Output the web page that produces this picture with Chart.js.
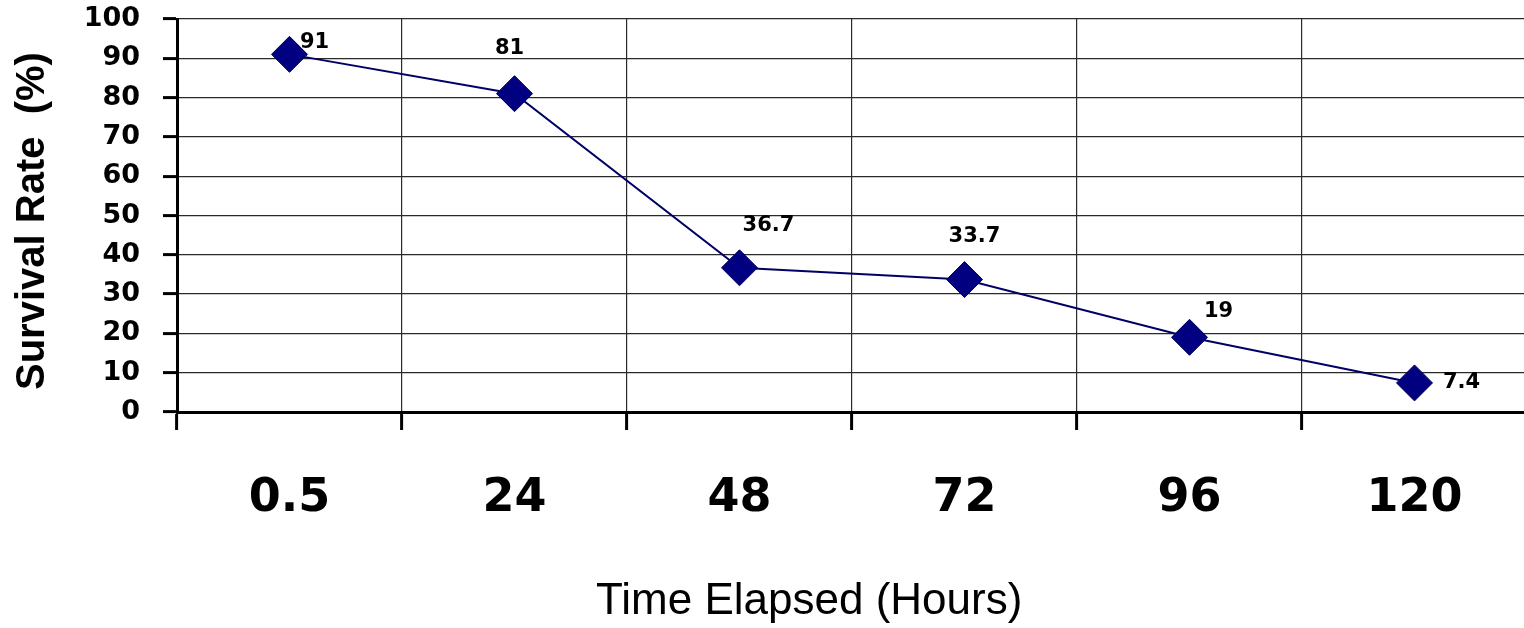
<!DOCTYPE html>
<html>
<head>
<meta charset="utf-8">
<script src="https://cdn.jsdelivr.net/npm/chart.js@4/dist/chart.umd.min.js"></script>
<style>
  html, body { margin: 0; padding: 0; background: #fff; overflow: hidden; }
  canvas { display: block; }
</style>
</head>
<body>
<canvas id="c" width="1546" height="628" style="width:1546px;height:628px"></canvas>
<script>
// ---- data ----
const categories = ['0.5', '24', '48', '72', '96', '120'];
const survival = [91, 81, 36.7, 33.7, 19, 7.4];
const valueLabels = ['91', '81', '36.7', '33.7', '19', '7.4'];
const yTicks = [0, 10, 20, 30, 40, 50, 60, 70, 80, 90, 100];

// ---- label placement (style only) ----
const labelOffsets = [[25, -12], [-5, -45], [29, -42], [10, -43], [29, -26], [47, 0]];

const labelPlugin = {
  id: 'pointLabels',
  afterDatasetsDraw(chart) {
    const meta = chart.getDatasetMeta(0);
    const ctx = chart.ctx;
    ctx.save();
    ctx.font = 'bold 21px "DejaVu Sans"';
    ctx.fillStyle = '#000';
    ctx.textAlign = 'center';
    ctx.textBaseline = 'middle';
    meta.data.forEach((pt, i) => {
      const o = labelOffsets[i];
      ctx.fillText(valueLabels[i], pt.x + o[0], pt.y + o[1]);
    });
    ctx.restore();
  }
};

function noPad(s) {
  s.paddingTop = 0; s.paddingBottom = 0; s.paddingLeft = 0; s.paddingRight = 0;
}

new Chart(document.getElementById('c'), {
  type: 'line',
  data: {
    labels: categories,
    datasets: [{
      data: survival,
      borderColor: '#000066',
      borderWidth: 2,
      backgroundColor: '#000080',
      pointStyle: 'rectRot',
      pointRadius: 18,
      pointBorderColor: '#00005a',
      pointBorderWidth: 1,
      pointBackgroundColor: '#000080',
      tension: 0,
      fill: false
    }]
  },
  options: {
    responsive: false,
    animation: false,
    devicePixelRatio: 1,
    layout: { padding: { top: 18, right: 0, bottom: 0, left: 0 } },
    plugins: { legend: { display: false }, tooltip: { enabled: false } },
    scales: {
      x: {
        type: 'category',
        offset: true,
        afterFit: (s) => { s.height = 216; noPad(s); },
        grid: {
          offset: true,
          color: '#2a2a2a',
          lineWidth: 1.2,
          drawTicks: true,
          tickLength: 18,
          tickWidth: 3,
          tickColor: '#000'
        },
        border: { display: true, color: '#000', width: 3 },
        ticks: {
          padding: 41,
          color: '#000',
          font: { family: '"DejaVu Sans"', size: 46, weight: 'bold' },
          maxRotation: 0
        },
        title: {
          display: true,
          text: 'Time Elapsed (Hours)       ',
          color: '#000',
          font: { family: '"Liberation Sans"', size: 44, weight: 'normal' },
          padding: { top: 0, bottom: 0 }
        }
      },
      y: {
        min: 0,
        max: 100,
        afterFit: (s) => { s.width = 177; noPad(s); },
        afterBuildTicks: (s) => { s.ticks = yTicks.map(v => ({ value: v })); },
        grid: {
          color: '#2a2a2a',
          lineWidth: 1.2,
          drawTicks: true,
          tickLength: 14,
          tickWidth: 3,
          tickColor: '#000'
        },
        border: { display: true, color: '#000', width: 3 },
        ticks: {
          padding: 23,
          color: '#000',
          font: { family: '"DejaVu Sans"', size: 27, weight: 'bold' }
        },
        title: {
          display: true,
          text: 'Survival Rate  (%) ',
          color: '#000',
          font: { family: '"Liberation Sans"', size: 40, weight: 'bold' },
          padding: { top: 9, bottom: 0 }
        }
      }
    }
  },
  plugins: [labelPlugin]
});
</script>
</body>
</html>
